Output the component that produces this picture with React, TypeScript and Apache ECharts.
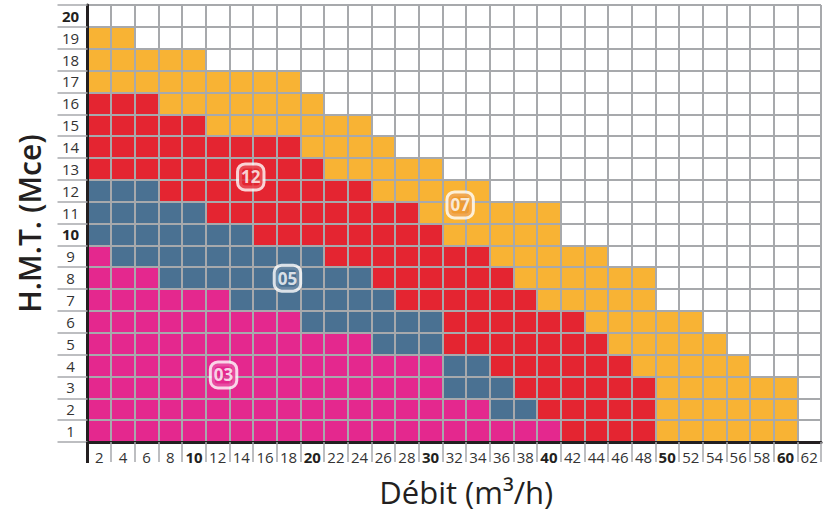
import React, { useEffect, useRef } from "react";
import * as echarts from "echarts";

// Flow (Débit, m3/h) categories and head (H.M.T., Mce) categories
const debitLabels = ["2","4","6","8","10","12","14","16","18","20","22","24","26","28","30","32","34","36","38","40","42","44","46","48","50","52","54","56","58","60","62"];
const hmtLabels = ["1","2","3","4","5","6","7","8","9","10","11","12","13","14","15","16","17","18","19","20"];

// Upper flow limit of each pump model, for heads 1..19 (0 = model absent at that head)
const max03 = [40, 34, 30, 30, 24, 18, 12, 6, 2, 0, 0, 0, 0, 0, 0, 0, 0, 0, 0];
const max05 = [40, 38, 36, 34, 30, 30, 26, 24, 20, 14, 10, 6, 0, 0, 0, 0, 0, 0, 0];
const max12 = [48, 48, 48, 46, 44, 42, 38, 36, 34, 30, 28, 24, 20, 18, 10, 6, 0, 0, 0];
const max07 = [60, 60, 60, 56, 54, 52, 48, 48, 44, 40, 40, 34, 30, 26, 24, 20, 18, 10, 4];

const models = ["03", "05", "12", "07"];
const modelColors = ["#E4288E", "#4A7192", "#E42531", "#F8B334"];
const tagColors = ["#E4288E", "#4A7192", "#E42531", "#EE9630"];

// Model tags: position in [débit, H.M.T.]
const tagDebit = [12.5, 17.9, 14.8, 32.5];
const tagHmt = [3.57, 8.0, 12.63, 11.35];

const GRID_GREY = "#A7A9AC";
const INK = "#231F20";
const FONT = "Open Sans";

function buildCells() {
  const limits = [max03, max05, max12, max07];
  const cells: number[][][] = [[], [], [], []];
  for (let h = 0; h < max07.length; h++) {
    for (let xi = 0; xi < debitLabels.length; xi++) {
      const q = Number(debitLabels[xi]);
      for (let m = 0; m < limits.length; m++) {
        if (q <= limits[m][h]) {
          cells[m].push([xi, h]);
          break;
        }
      }
    }
  }
  return cells;
}

export default function App() {
  const ref = useRef<HTMLDivElement>(null);

  useEffect(() => {
    if (!ref.current) return;
    const chart = echarts.init(ref.current, null, { renderer: "svg" });
    const cells = buildCells();

    const cellSeries = models.map((m, i) => ({
      type: "custom",
      name: m,
      xAxisIndex: 0,
      yAxisIndex: 0,
      z: 2,
      data: cells[i],
      encode: { x: 0, y: 1 },
      renderItem: (params: any, api: any) => {
        const p = api.coord([api.value(0), api.value(1)]);
        const s = api.size([1, 1]);
        return {
          type: "rect",
          shape: { x: p[0] - s[0] / 2, y: p[1] - s[1] / 2, width: s[0], height: s[1] },
          style: { fill: modelColors[i] },
        };
      },
    }));

    const tagSeries = {
      type: "scatter",
      xAxisIndex: 1,
      yAxisIndex: 1,
      z: 10,
      zlevel: 1,
      symbol: "rect",
      symbolSize: 0,
      data: models.map((m, i) => ({
        value: [tagDebit[i], tagHmt[i], m],
        label: { backgroundColor: tagColors[i] },
      })),
      label: {
        show: true,
        position: "inside",
        formatter: (p: any) => p.value[2],
        color: "#fff",
        fontSize: 17,
        fontWeight: "bold",
        fontFamily: FONT,
        lineHeight: 18,
        borderColor: "#fff",
        borderWidth: 3,
        borderRadius: 6,
        padding: [3, 2, 2, 2],
      },
    };

    const boldRich = {
      n: { fontSize: 15, color: "#333", fontFamily: FONT },
      b: { fontSize: 15, color: INK, fontFamily: FONT, fontWeight: "bold" },
    };

    chart.setOption({
      animation: false,
      textStyle: { fontFamily: FONT },
      grid: { left: 87.5, right: 9, top: 5, bottom: 73, containLabel: false, outerBoundsMode: "none" },
      xAxis: [
        {
          type: "category",
          data: debitLabels,
          boundaryGap: true,
          z: 3,
          axisLine: { show: true, lineStyle: { color: INK, width: 3 } },
          axisTick: { show: true, length: 20, lineStyle: { color: GRID_GREY, width: 1.5 } },
          splitLine: { show: true, lineStyle: { color: GRID_GREY, width: 2 } },
          axisLabel: {
            interval: 0,
            margin: 7,
            formatter: (v: string) => (Number(v) % 10 === 0 ? `{b|${v}}` : `{n|${v}}`),
            rich: boldRich,
          },
          name: "Débit (m³/h)",
          nameLocation: "middle",
          nameGap: 34,
          nameTextStyle: { fontSize: 31, color: INK, fontFamily: FONT, fontWeight: 500, padding: [0, 0, 0, 24] },
        },
        { type: "value", min: 1, max: 63, show: false },
      ],
      yAxis: [
        {
          type: "category",
          data: hmtLabels,
          boundaryGap: true,
          z: 3,
          axisLine: { show: true, lineStyle: { color: INK, width: 3 } },
          axisTick: { show: true, length: 30, lineStyle: { color: GRID_GREY, width: 1.5 } },
          splitLine: { show: true, lineStyle: { color: GRID_GREY, width: 2 } },
          axisLabel: {
            interval: 0,
            margin: 17,
            align: "center",
            formatter: (v: string) => (Number(v) % 10 === 0 ? `{b|${v}}` : `{n|${v}}`),
            rich: boldRich,
          },
          name: "H.M.T. (Mce)",
          nameLocation: "middle",
          nameGap: 43,
          nameTextStyle: { fontSize: 30, color: INK, fontFamily: FONT, fontWeight: 600 },
        },
        { type: "value", min: 0.5, max: 20.5, show: false },
      ],
      graphic: [
        {
          type: "line",
          shape: { x1: 87.5, y1: 442, x2: 87.5, y2: 463 },
          style: { stroke: INK, lineWidth: 3 },
          z: 20,
        },
      ],
      series: [...cellSeries, tagSeries],
    });

    return () => chart.dispose();
  }, []);

  return (
    <div
      ref={ref}
      style={{ position: "absolute", left: 0, top: 0, width: 830, height: 515, background: "#fff" }}
    />
  );
}
